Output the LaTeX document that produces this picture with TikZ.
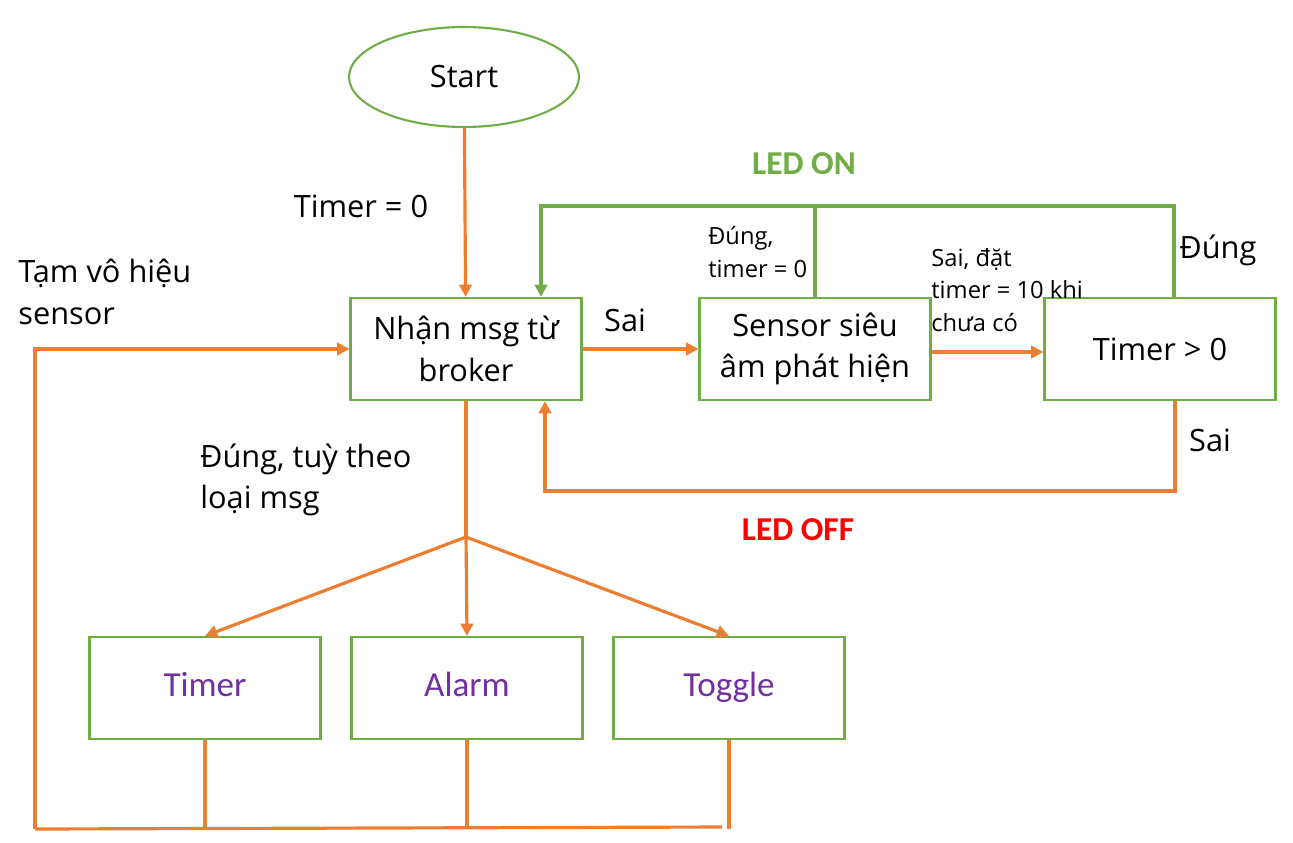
\documentclass[tikz,border=0pt]{standalone}
\usepackage{fontspec}
\setmainfont{Open Sans}
\newfontfamily\calibri{Carlito}
\usepackage{tikz}
\usetikzlibrary{arrows.meta, positioning, calc, shapes.geometric}
\usepackage{xcolor}
\definecolor{flow}{HTML}{ED7D31}
\definecolor{frame}{HTML}{70AD47}
\definecolor{kind}{HTML}{7030A0}
\definecolor{ledoff}{HTML}{FF0000}

\begin{document}
\begin{tikzpicture}[
    x=0.02cm, y=-0.02cm,
    procbox/.style={draw=frame, line width=1.2pt, minimum width=4.62cm, minimum height=2.04cm,
                    align=center, inner sep=2pt, font=\fontsize{17.5}{23.5}\selectfont},
    kindbox/.style={procbox, text=kind, text height=14pt, text depth=4pt,
                    font=\calibri\fontsize{20}{24}\selectfont},
    startbox/.style={ellipse, draw=frame, line width=1.2pt, minimum width=4.6cm, minimum height=2.0cm,
                     inner sep=0pt, font=\fontsize{17.5}{23.5}\selectfont},
    note/.style={align=left, inner sep=0pt, font=\fontsize{17.5}{23.5}\selectfont},
    small/.style={align=left, inner sep=0pt, font=\fontsize{13.5}{18.5}\selectfont},
    led/.style={inner sep=0pt, font=\calibri\bfseries\fontsize{19}{22}\selectfont},
    oline/.style={draw=flow, line width=1.8pt},
    gline/.style={draw=frame, line width=1.8pt},
    >={Triangle[length=7pt, width=7pt]}
]
\useasboundingbox (0,0) rectangle (1293,842);

% main nodes
\node[startbox] (start) at (464,77) {Start};
\node[procbox] (recv) at (466,349) {Nhận msg từ\\broker};
\node[procbox] (sensor) at (815,349) {Sensor siêu\\âm phát hiện};
\node[procbox] (tgt) at (1160,349) {Timer > 0};
\node[kindbox] (ktimer) at (205,688) {Timer};
\node[kindbox] (kalarm) at (467,688) {Alarm};
\node[kindbox] (ktoggle) at (729,688) {Toggle};

% labels
\node[note] (linit) at (361,206) {Timer = 0};
\node[note, anchor=west] (lpause) at (18,292) {Tạm vô hiệu\\sensor};
\node[note, anchor=west] (lkind) at (200,480) {Đúng, tuỳ theo\\loại msg};
\node[note] (lsai1) at (625,320) {Sai};
\node[note] (lsai2) at (1210,440) {Sai};
\node[note] (ldung) at (1218,250) {Đúng};
\node[small, anchor=west] (ldung0) at (708,252) {Đúng,\\timer = 0};
\node[small, anchor=west] (lset) at (931,290) {Sai, đặt\\timer = 10 khi\\chưa có};
\node[led, text=frame] (lon) at (804,164) {LED ON};
\node[led, text=ledoff] (loff) at (798,530) {LED OFF};

% corners
\coordinate (onR) at (1174,206);
\coordinate (onL) at (541,206);
\coordinate (offR) at (1175,491);
\coordinate (offL) at (545,491);
\coordinate (split) at (466,537);
\coordinate (botL) at (35,829);
\coordinate (topL) at (35,349);
\coordinate (botR) at (722,827);

% flow
\draw[oline, ->] (start) -- (recv);
\draw[oline, ->] (recv) -- (sensor);
\draw[oline, ->] ([yshift=-0.06cm]sensor.east) -- ([yshift=-0.06cm]tgt.west);
\draw[gline, ->] (tgt.north -| onR) -- (onR) -- (onL) -- (onL |- recv.north);
\draw[gline] (sensor.north) -- (sensor.north |- onR);
\draw[oline, ->] (tgt.south -| offR) -- (offR) -- (offL) -- (offL |- recv.south);
\draw[oline] (recv.south) -- (split);
\draw[oline, ->] (split) -- (ktimer.north);
\draw[oline, ->] (split) -- (kalarm.north);
\draw[oline, ->] (split) -- (ktoggle.north);
\draw[oline] (ktimer.south) -- (ktimer.south |- botL);
\draw[oline] (kalarm.south) -- (kalarm.south |- botL);
\draw[oline] (ktoggle.south) -- (ktoggle.south |- botL);
\draw[oline] (botL) -- (botR);
\draw[oline, ->] (botL) -- (topL) -- (recv.west);
\end{tikzpicture}
\end{document}
